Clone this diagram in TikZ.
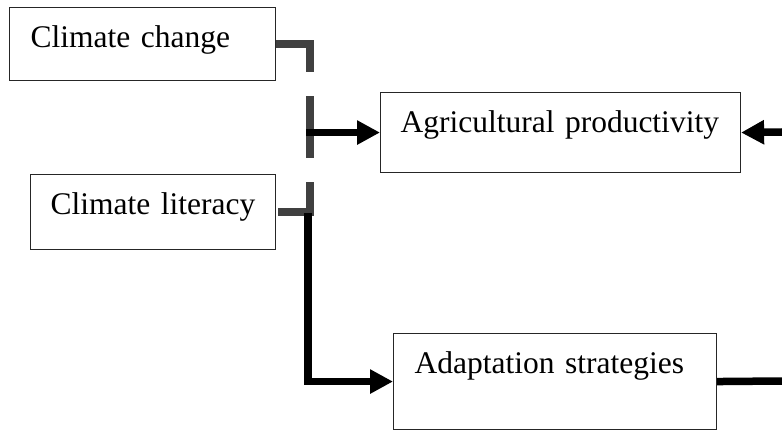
\documentclass[tikz,border=0pt]{standalone}
\usepackage{fontspec}
\setmainfont{Liberation Serif}
\usetikzlibrary{arrows.meta}
\definecolor{linkgray}{HTML}{404040}
\begin{document}
\begin{tikzpicture}[x=1pt,y=-1pt,
  box/.style={draw=black!85, line width=1.1pt, inner ysep=0pt, align=left, anchor=north west,
    font=\fontsize{31.5}{36}\selectfont},
  graylink/.style={draw=linkgray, line width=8pt, dash pattern=on 62pt off 24pt, line join=miter},
  blacklink/.style={draw=black, line width=7.5pt},
  arr/.style={blacklink, -{Triangle[length=23pt,width=23pt]}}]
\useasboundingbox (0,0) rectangle (782,430);
% boxes
\node[box, inner xsep=21pt, text width=224pt, text height=40pt, text depth=33pt] (cc) at (9,7) {Climate change};
\node[box, inner xsep=20pt, text width=205pt, text height=40pt, text depth=35pt] (cl) at (30,174) {Climate literacy};
\node[box, inner xsep=20pt, text width=320pt, text height=40pt, text depth=40pt] (ap) at (380,92) {Agricultural productivity};
\node[box, inner xsep=21pt, text width=281pt, text height=40pt, text depth=56pt] (as) at (393,333) {Adaptation strategies};
% junction and edge coordinates
\coordinate (jx) at (310,0);
\coordinate (jb) at (308,0);
\coordinate (ja) at (306,0);
\coordinate (rtop) at (782,132);
\coordinate (rbot) at (782,381);
% connectors
\draw[graylink] (cc.east) -| (jx |- cl.east) -- (cl.east);
\draw[arr] (ja |- ap.west) -- (ap.west);
\draw[arr] ([yshift=-1pt]jb |- cl.east) |- (as.west);
\draw[blacklink] (as.east) -- (rbot);
\draw[arr] (rtop) -- (ap.east);
\end{tikzpicture}
\end{document}
